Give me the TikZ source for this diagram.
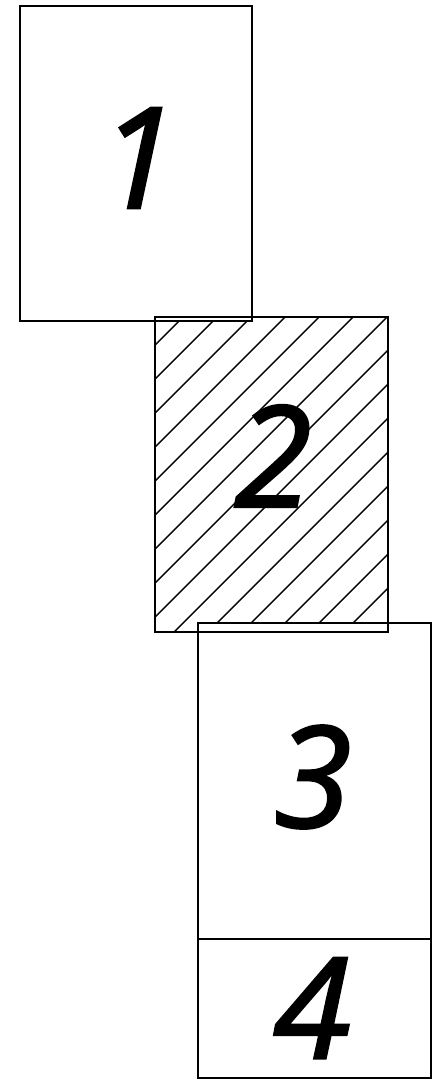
\documentclass[tikz,border=0pt]{standalone}
\usepackage{fontspec}
\newfontfamily\digitfont{Open Sans}[FakeBold=1.8]
\usetikzlibrary{positioning}
\tikzset{
  part/.style={draw=black,line width=1.7pt},
  hatch/.style={black,line width=1pt},
  partlabel/.style={inner sep=0pt,font=\digitfont\itshape\fontsize{100}{100}\selectfont}
}
\begin{document}
\begin{tikzpicture}[x=0.025cm,y=-0.025cm]
\useasboundingbox (0,0) rectangle (440,1080);
% hatching of part 2
\begin{scope}
\clip (155,317) rectangle (388,632);
\foreach \c in {466,500,...,1040}
  \draw[hatch] (\c-700,700) -- (\c,0);
\end{scope}
% parts 1 and 3 lie over the hatching
\fill[white] (20,6) rectangle (252,321);
\fill[white] (198,623) rectangle (431,939);
% outlines
\draw[part] (20,6) rectangle (252,321);
\draw[part] (155,317) rectangle (388,632);
\draw[part] (198,623) rectangle (431,939);
\draw[part] (198,939) rectangle (431,1078);
% numbers
\node[partlabel] (n1) at (138,158) {1};
\node[partlabel] (n2) at (273,456) {2};
\node[partlabel] (n3) at (313,777) {3};
\node[partlabel] (n4) at (312,1008) {4};
\end{tikzpicture}
\end{document}
